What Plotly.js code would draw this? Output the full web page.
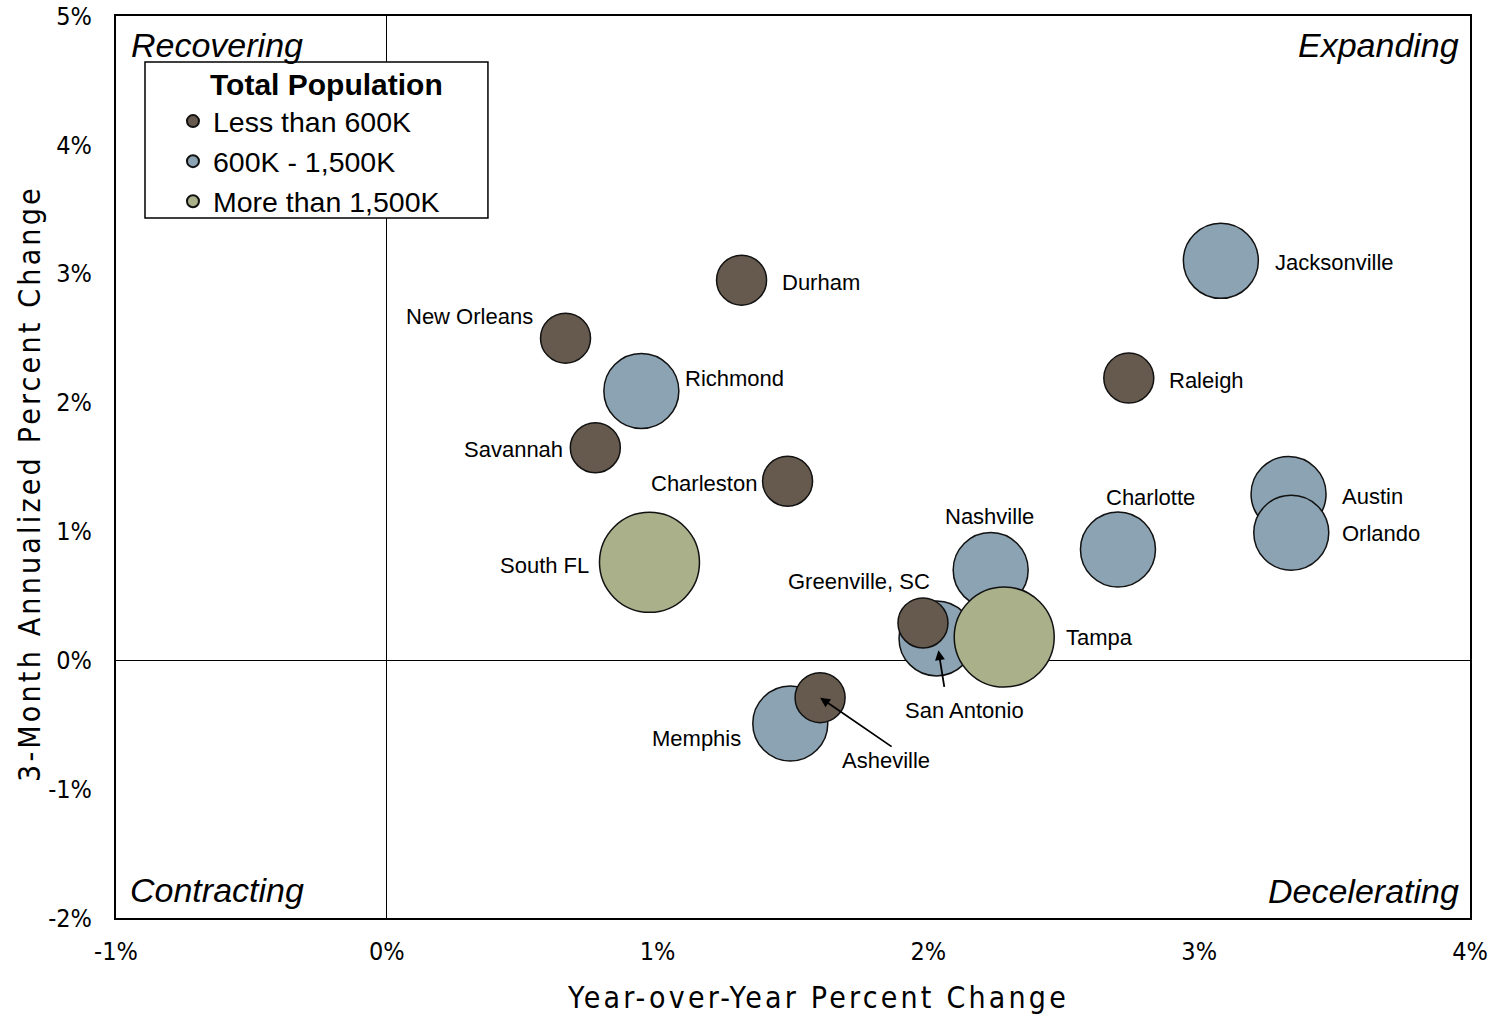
<!DOCTYPE html>
<html>
<head>
<meta charset="utf-8">
<script src="https://cdn.plot.ly/plotly-3.0.1.min.js"></script>
<style>
  html, body { margin: 0; padding: 0; background: #ffffff; }
  #chart { width: 1497px; height: 1017px; }
</style>
</head>
<body>
<div id="chart"></div>
<script>
// Metro areas, year-over-year change vs 3-month annualized change (percent)
const cities = [
  'Jacksonville', 'Richmond', 'Nashville', 'Charlotte', 'Austin', 'Orlando', 'San Antonio', 'Memphis',
  'Durham', 'New Orleans', 'Raleigh', 'Savannah', 'Charleston', 'Greenville, SC', 'Asheville',
  'South FL', 'Tampa'
];
const yoyChange = [
  3.08, 0.94, 2.23, 2.70, 3.33, 3.34, 2.03, 1.49,
  1.31, 0.66, 2.74, 0.77, 1.48, 1.98, 1.60,
  0.97, 2.28
];
const threeMonthChange = [
  3.10, 2.09, 0.70, 0.86, 1.29, 0.99, 0.17, -0.49,
  2.95, 2.50, 2.19, 1.65, 1.39, 0.29, -0.29,
  0.76, 0.18
];
const popGroup = [
  '600K - 1,500K', '600K - 1,500K', '600K - 1,500K', '600K - 1,500K', '600K - 1,500K', '600K - 1,500K', '600K - 1,500K', '600K - 1,500K',
  'Less than 600K', 'Less than 600K', 'Less than 600K', 'Less than 600K', 'Less than 600K', 'Less than 600K', 'Less than 600K',
  'More than 1,500K', 'More than 1,500K'
];
const groups = ['600K - 1,500K', 'Less than 600K', 'More than 1,500K'];

const xTickVals = [-1, 0, 1, 2, 3, 4];
const xTickText = ['-1%', '0%', '1%', '2%', '3%', '4%'];
const yTickVals = [-2, -1, 0, 1, 2, 3, 4, 5];
const yTickText = ['-2%', '-1%', '0%', '1%', '2%', '3%', '4%', '5%'];

const xTitle = 'Year-over-Year Percent Change';
const yTitle = '3-Month Annualized Percent Change';
const legendTitle = 'Total Population';

// Bubble appearance per population group
const groupStyle = {
  'Less than 600K':   { color: '#665A4E', size: 50, rank: 1 },
  '600K - 1,500K':    { color: '#8BA3B2', size: 75, rank: 2 },
  'More than 1,500K': { color: '#A9B08A', size: 100, rank: 3 }
};

// Where each city name sits relative to its bubble (pixels)
const labelPlace = {
  'Jacksonville':   { anchor: 'left',   dx: 52,  dy: -2 },
  'Durham':         { anchor: 'left',   dx: 38,  dy: -2 },
  'New Orleans':    { anchor: 'right',  dx: -31, dy: 22 },
  'Richmond':       { anchor: 'left',   dx: 42,  dy: 12 },
  'Raleigh':        { anchor: 'left',   dx: 38,  dy: -2 },
  'Savannah':       { anchor: 'right',  dx: -30, dy: -2 },
  'Charleston':     { anchor: 'right',  dx: -29, dy: -2 },
  'South FL':       { anchor: 'right',  dx: -58, dy: -3 },
  'Nashville':      { anchor: 'center', dx: -1,  dy: 54 },
  'Charlotte':      { anchor: 'center', dx: 33,  dy: 52 },
  'Austin':         { anchor: 'left',   dx: 51,  dy: -2 },
  'Orlando':        { anchor: 'left',   dx: 49,  dy: -1 },
  'Greenville, SC': { anchor: 'center', dx: -64, dy: 41 },
  'San Antonio':    { anchor: 'center', dx: 28,  dy: -72, arrow: { ax: 8, ay: 50, standoff: 12 } },
  'Tampa':          { anchor: 'left',   dx: 60,  dy: 0 },
  'Asheville':      { anchor: 'center', dx: 66,  dy: -63, arrow: { ax: 73, ay: 50, standoff: 0 } },
  'Memphis':        { anchor: 'right',  dx: -47, dy: -15 }
};

const baseFamily = 'Liberation Sans, Arial, sans-serif';
const axisFamily = 'DejaVu Sans Condensed, DejaVu Sans, Open Sans, sans-serif';
const labelFont = { family: baseFamily, size: 22, color: '#000000' };

const traces = groups.map(g => {
  const idx = popGroup.map((p, i) => p === g ? i : -1).filter(i => i >= 0);
  return {
    type: 'scatter',
    mode: 'markers',
    name: g,
    legendrank: groupStyle[g].rank,
    x: idx.map(i => yoyChange[i]),
    y: idx.map(i => threeMonthChange[i]),
    text: idx.map(i => cities[i]),
    hoverinfo: 'text',
    marker: {
      size: groupStyle[g].size,
      color: groupStyle[g].color,
      opacity: 1,
      line: { color: '#111111', width: 1.5 }
    }
  };
});

const annotations = [];
cities.forEach((c, i) => {
  const p = labelPlace[c];
  annotations.push({
    x: yoyChange[i], y: threeMonthChange[i], xref: 'x', yref: 'y',
    text: c, showarrow: false, font: labelFont,
    xanchor: p.anchor, yanchor: 'middle', xshift: p.dx, yshift: p.dy
  });
  if (p.arrow) {
    annotations.push({
      x: yoyChange[i], y: threeMonthChange[i], xref: 'x', yref: 'y',
      text: '', showarrow: true, ax: p.arrow.ax, ay: p.arrow.ay,
      axref: 'pixel', ayref: 'pixel',
      arrowhead: 2, arrowsize: 1.1, arrowwidth: 1.8, arrowcolor: '#000000',
      standoff: p.arrow.standoff
    });
  }
});

// Quadrant names in the corners of the plot
const quadFont = { family: baseFamily, size: 34, color: '#000000', style: 'italic' };
[
  { text: 'Recovering',   x: 0, y: 1, xanchor: 'left',  xshift: 13,  yshift: -29 },
  { text: 'Expanding',    x: 1, y: 1, xanchor: 'right', xshift: -9,  yshift: -29 },
  { text: 'Contracting',  x: 0, y: 0, xanchor: 'left',  xshift: 12,  yshift: 28 },
  { text: 'Decelerating', x: 1, y: 0, xanchor: 'right', xshift: -9,  yshift: 27 }
].forEach(q => {
  annotations.push({
    xref: 'paper', yref: 'paper', x: q.x, y: q.y, text: q.text, showarrow: false,
    xanchor: q.xanchor, yanchor: 'middle', xshift: q.xshift, yshift: q.yshift,
    font: quadFont
  });
});

// Axis titles, letter-spaced
const spaced = t => '<span style="letter-spacing:3.2px">' + t + '</span>';
annotations.push({
  xref: 'paper', yref: 'paper', x: 0.5185, y: 0, yshift: -79,
  xanchor: 'center', yanchor: 'middle', showarrow: false,
  text: spaced(xTitle), font: { family: axisFamily, size: 30, color: '#000000' }
});
annotations.push({
  xref: 'paper', yref: 'paper', x: 0, y: 0.4812, xshift: -86,
  xanchor: 'center', yanchor: 'middle', showarrow: false, textangle: -90,
  text: spaced(yTitle), font: { family: axisFamily, size: 30, color: '#000000' }
});

// Heading of the legend box
annotations.push({
  xref: 'paper', yref: 'paper', x: 0.1558, y: 0.949, yshift: -22,
  xanchor: 'center', yanchor: 'middle', showarrow: false,
  text: '<b>' + legendTitle + '</b>', font: { family: baseFamily, size: 30, color: '#000000' }
});

const layout = {
  width: 1497,
  height: 1017,
  margin: { l: 116, r: 27, t: 16, b: 99 },
  paper_bgcolor: '#ffffff',
  plot_bgcolor: '#ffffff',
  font: { family: baseFamily, color: '#000000' },
  showlegend: true,
  hovermode: 'closest',
  xaxis: {
    range: [-1, 4],
    tickmode: 'array', tickvals: xTickVals, ticktext: xTickText,
    tickfont: { family: axisFamily, size: 25, color: '#000000' },
    ticks: '', ticklabelstandoff: 10,
    showgrid: false,
    zeroline: true, zerolinecolor: '#000000', zerolinewidth: 1.3,
    showline: true, linecolor: '#000000', linewidth: 2, mirror: true
  },
  yaxis: {
    range: [-2, 5],
    tickmode: 'array', tickvals: yTickVals, ticktext: yTickText,
    tickfont: { family: axisFamily, size: 25, color: '#000000' },
    ticks: '', ticklabelstandoff: 17,
    showgrid: false,
    zeroline: true, zerolinecolor: '#000000', zerolinewidth: 1.3,
    showline: true, linecolor: '#000000', linewidth: 2, mirror: true
  },
  // White frame behind the legend
  shapes: [{
    type: 'rect', xref: 'paper', yref: 'paper', layer: 'above',
    x0: 0.02142, x1: 0.2747, y0: 0.7761, y1: 0.949,
    fillcolor: '#ffffff', line: { color: '#000000', width: 1.5 }
  }],
  legend: {
    x: 0.0214, y: 0.9112, xanchor: 'left', yanchor: 'top',
    bgcolor: 'rgba(0,0,0,0)', borderwidth: 0,
    font: { family: baseFamily, size: 28.5, color: '#000000' },
    itemsizing: 'constant',
    indentation: 28,
    traceorder: 'normal'
  },
  annotations: annotations
};

Plotly.newPlot('chart', traces, layout, { displayModeBar: false, staticPlot: true });
</script>
</body>
</html>
